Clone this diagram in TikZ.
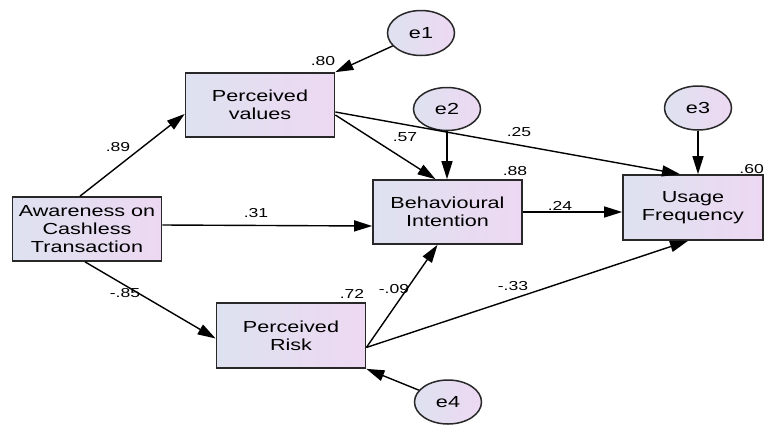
\documentclass[tikz,border=0pt]{standalone}
\usepackage{fontspec}
\setmainfont{Liberation Sans}[FakeStretch=1.35]
\usetikzlibrary{shapes.geometric,arrows.meta,calc}
\definecolor{boxL}{RGB}{222,226,240}
\definecolor{boxR}{RGB}{237,216,242}
\definecolor{edgegray}{RGB}{40,40,40}
\begin{document}
\begin{tikzpicture}[x=1pt,y=-1pt,
  var/.style={draw=edgegray,line width=1.7pt,left color=boxL,right color=boxR,
    minimum width=149pt,minimum height=64pt,inner sep=0pt,align=center,
    font=\fontsize{16}{18}\selectfont},
  err/.style={ellipse,draw=edgegray,line width=1.5pt,left color=boxL,right color=boxR,
    minimum width=67pt,minimum height=45pt,inner sep=0pt,
    font=\fontsize{16}{18}\selectfont},
  coef/.style={font=\fontsize{13}{14}\selectfont,inner sep=0pt},
  path/.style={line width=1.4pt,draw=black,-{Triangle[length=18pt,width=11pt]}}]
\useasboundingbox (0,0) rectangle (765,426);
\clip (0,0) rectangle (765,426);
% variables
\node[var] (aw) at (87,229) {Awareness on\\Cashless\\Transaction};
\node[var] (pv) at (260,105) {Perceived\\values};
\node[var] (bi) at (447.5,212) {Behavioural\\Intention};
\node[var,minimum width=140pt,minimum height=65pt] (uf) at (693,207.5) {Usage\\Frequency};
\node[var,minimum height=65pt] (pr) at (291,335.5) {Perceived\\Risk};
% errors
\node[err] (e1) at (421,33) {e1};
\node[err,minimum height=43pt] (e2) at (447,109) {e2};
\node[err,minimum height=44pt] (e3) at (698,108) {e3};
\node[err,minimum height=44pt] (e4) at (448,402) {e4};
% paths
\draw[path] ($(aw.north)+(-7,0)$) -- ($(pv.west)+(0,9)$);
\draw[path] ($(aw.east)+(0,-4)$) -- ($(bi.west)+(0,14)$);
\draw[path] ($(aw.south)+(-2,0)$) -- ($(pr.west)+(0,3)$);
\draw[path] ($(pv.east)+(0,10)$) -- ($(bi.north)+(-12,0)$);
\draw[path] ($(pv.east)+(0,7)$) -- ($(uf.north)+(-13,0)$);
\draw[path] (e2.south) -- (e2.south |- bi.north);
\draw[path] (bi.east) -- (bi.east -| uf.west);
\draw[path] (e3.south) -- (e3.south |- uf.north);
\draw[path] ($(pr.east)+(0,12)$) -- ($(bi.south)+(-10,0)$);
\draw[path] ($(pr.east)+(0,12)$) -- ($(uf.south)+(-5,0)$);
\draw[path] (e1) -- (pv.north east);
\draw[path] (e4) -- (pr.south east);
% coefficients
\node[coef] (c80) at (323,61) {.80};
\node[coef] (c89) at (118,147) {.89};
\node[coef] (c57) at (405,137) {.57};
\node[coef] (c25) at (519,132) {.25};
\node[coef] (c88) at (515,171) {.88};
\node[coef,anchor=east] (c60) at (764,169) {.60};
\node[coef] (c31) at (256,213) {.31};
\node[coef] (c24) at (560,206) {.24};
\node[coef] (c85) at (125,293) {-.85};
\node[coef] (c72) at (352,294) {.72};
\node[coef] (c09) at (394,289) {-.09};
\node[coef] (c33) at (513,286) {-.33};
\end{tikzpicture}
\end{document}
